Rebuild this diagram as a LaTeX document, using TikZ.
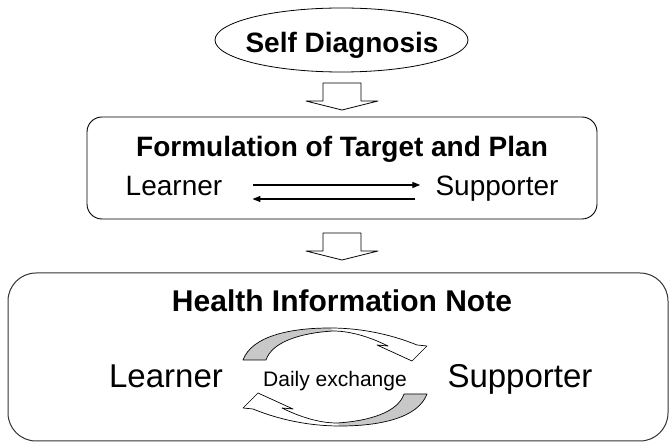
\documentclass[tikz,border=0pt]{standalone}
\usepackage{fontspec}
\setmainfont{Liberation Sans}
\usetikzlibrary{shapes.geometric,arrows.meta,calc}
\definecolor{arrowgray}{HTML}{C8C8C8}
\begin{document}
\begin{tikzpicture}[x=1pt,y=-1pt,line join=round,
  txt/.style={anchor=base,inner sep=0pt},
  boldbig/.style={font=\fontsize{28}{30}\selectfont\bfseries},
  reg/.style={font=\fontsize{28}{30}\selectfont},
  conn/.style={line width=1.3pt,-{Triangle[length=8pt,width=6pt]}},
  blockdown/.pic={\draw[line width=0.8pt,fill=white] (-19,0) -- (19,0) -- (19,18) -- (36,18) -- (0,27) -- (-36,18) -- (-19,18) -- cycle;},
  cyclearrow/.pic={
    \fill[arrowgray] (243,360) .. controls (252,336) and (290,328) .. (330,328) -- (333,331) .. controls (300,333) and (272,342) .. (266,360) -- cycle;
    \draw[line width=0.7pt] (243,360) .. controls (252,336) and (290,328) .. (330,328) .. controls (365,328) and (395,336) .. (417,345) -- (427,346) -- (412,361) -- (377,345) -- (388,346) .. controls (372,338) and (352,331) .. (333,331) .. controls (300,333) and (272,342) .. (266,360) -- cycle;}
]
\useasboundingbox (0,0) rectangle (670,443);

% Self diagnosis
\node[draw,ellipse,line width=0.8pt,minimum width=253pt,minimum height=64pt,inner sep=0pt] (sd) at (341.5,40) {};
\node[txt,boldbig] (sdtext) at (342,53) {Self Diagnosis};

\pic at (342,83) {blockdown};

% Formulation box
\node[draw,rounded corners=15pt,line width=0.9pt,minimum width=510pt,minimum height=102pt,inner sep=0pt] (fp) at (342,168) {};
\node[txt,boldbig] (fptext) at (342,157) {Formulation of Target and Plan};
\node[txt,reg] (l1) at (174,196) {Learner};
\node[txt,reg] (s1) at (497,196) {Supporter};
\coordinate (ya) at (0,185);
\coordinate (yb) at (0,199);
\draw[conn] ($(l1.east |- ya)+(31,0)$) -- ($(s1.west |- ya)+(-15,0)$);
\draw[conn] ($(s1.west |- yb)+(-20,0)$) -- ($(l1.east |- yb)+(30,0)$);

\pic at (342,233) {blockdown};

% Health information note box
\node[draw=black!80,rounded corners=28pt,line width=1pt,minimum width=660pt,minimum height=168pt,inner sep=0pt] (hn) at (338,357) {};
\node[txt,font=\fontsize{30}{32}\selectfont\bfseries] (hntext) at (342,312) {Health Information Note};
\node[txt,font=\fontsize{33}{35}\selectfont] (l2) at (166,388) {Learner};
\node[txt,font=\fontsize{33}{35}\selectfont] (s2) at (520,388) {Supporter};
\node[txt,font=\fontsize{21}{23}\selectfont] (de) at (335,387) {Daily exchange};

\pic at (0,0) {cyclearrow};
\pic[rotate=180] at (670,754) {cyclearrow};
\end{tikzpicture}
\end{document}
